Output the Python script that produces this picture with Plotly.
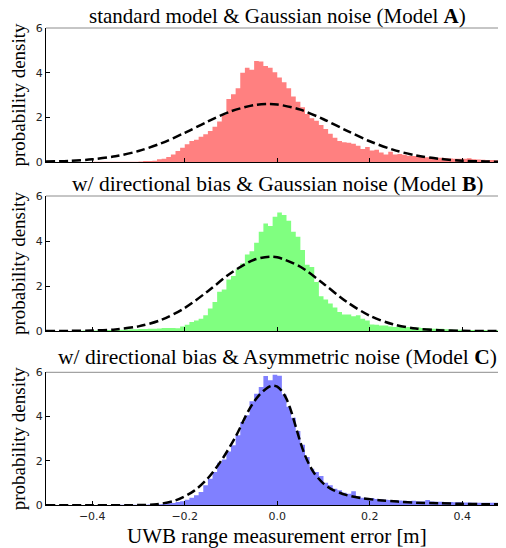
import numpy as np
import plotly.graph_objects as go

# ---------------- data ----------------
bin_width = 0.01
bin_left = np.round(np.arange(-0.50, 0.50, bin_width), 2)   # 100 bins, left edges

hist_A = [
    0, 0, 0, 0, 0, 0, 0, 0, 0, 0,
    0.01, 0.01, 0.01, 0.01, 0.01, 0.01, 0.01, 0.01, 0.01, 0.01,
    0.02, 0.04, 0.05, 0.06, 0.12, 0.14, 0.22, 0.34, 0.49, 0.64,
    0.79, 0.94, 1.00, 1.13, 1.24, 1.39, 1.58, 1.81, 2.10, 2.82,
    3.03, 3.30, 4.00, 4.22, 4.13, 4.52, 4.50, 4.30, 4.22, 4.02,
    3.78, 3.57, 3.30, 2.93, 2.70, 2.45, 2.15, 1.96, 1.85, 1.66,
    1.48, 1.27, 1.09, 0.94, 0.88, 0.86, 0.82, 0.73, 0.58, 0.67,
    0.52, 0.55, 0.42, 0.34, 0.46, 0.34, 0.36, 0.33, 0.28, 0.27,
    0.24, 0.22, 0.21, 0.21, 0.19, 0.19, 0.17, 0.16, 0.15, 0.14,
    0.14, 0.17, 0.12, 0.11, 0.10, 0.09, 0.09, 0.08, 0.07, 0.06,
]
hist_B = [
    0, 0, 0, 0, 0, 0, 0, 0.01, 0.02, 0.02,
    0.02, 0.03, 0.04, 0.04, 0.05, 0.05, 0.06, 0.07, 0.08, 0.08,
    0.09, 0.09, 0.10, 0.10, 0.11, 0.13, 0.13, 0.13, 0.12, 0.20,
    0.28, 0.40, 0.47, 0.54, 0.70, 1.00, 1.29, 1.74, 1.84, 2.29,
    2.44, 2.74, 3.00, 3.40, 3.55, 3.92, 4.41, 4.78, 4.67, 5.08,
    5.27, 5.16, 4.90, 4.41, 4.19, 3.60, 2.95, 2.85, 2.18, 1.55,
    1.40, 1.22, 1.04, 0.85, 0.73, 0.73, 0.66, 0.70, 0.55, 0.47,
    0.29, 0.28, 0.24, 0.24, 0.20, 0.18, 0.20, 0.17, 0.18, 0.16,
    0.16, 0.13, 0.12, 0.10, 0.10, 0.10, 0.08, 0.07, 0.06, 0.06,
    0.05, 0.05, 0.04, 0.04, 0.04, 0.03, 0.03, 0.03, 0.02, 0.02,
]
hist_C = [
    0, 0, 0, 0, 0, 0, 0, 0, 0, 0.01,
    0.01, 0.01, 0.01, 0.01, 0.01, 0.01, 0.02, 0.02, 0.02, 0.03,
    0.03, 0.03, 0.04, 0.04, 0.05, 0.06, 0.09, 0.10, 0.15, 0.18,
    0.25, 0.34, 0.45, 0.60, 0.90, 1.20, 1.50, 1.92, 2.07, 2.43,
    2.71, 3.16, 3.76, 4.06, 4.69, 5.03, 5.34, 5.83, 5.64, 5.89,
    5.85, 5.00, 4.45, 3.95, 3.35, 2.73, 2.18, 1.65, 1.50, 1.32,
    1.02, 0.90, 0.75, 0.68, 0.57, 0.52, 0.63, 0.42, 0.34, 0.30,
    0.33, 0.28, 0.27, 0.25, 0.24, 0.24, 0.22, 0.21, 0.19, 0.20,
    0.17, 0.17, 0.24, 0.17, 0.16, 0.16, 0.15, 0.15, 0.14, 0.14,
    0.13, 0.13, 0.12, 0.12, 0.12, 0.11, 0.11, 0.11, 0.10, 0.10,
]

# model density curves
curve_A_x = [-0.50, -0.45, -0.40, -0.35, -0.30, -0.25, -0.20, -0.15, -0.10, -0.05,
             -0.02, 0.00, 0.05, 0.10, 0.15, 0.20, 0.25, 0.30, 0.35, 0.40, 0.45, 0.50]
curve_A_y = [0.019, 0.051, 0.121, 0.257, 0.491, 0.845, 1.306, 1.816, 2.27, 2.55,
             2.60, 2.578, 2.343, 1.914, 1.407, 0.93, 0.552, 0.295, 0.142, 0.061, 0.024, 0.008]

curve_B_x = [-0.50, -0.45, -0.40, -0.35, -0.30, -0.25, -0.20, -0.15, -0.10, -0.05,
             -0.015, 0.00, 0.05, 0.10, 0.15, 0.20, 0.25, 0.30, 0.35, 0.40, 0.45, 0.50]
curve_B_y = [0.001, 0.005, 0.021, 0.071, 0.205, 0.499, 1.024, 1.77, 2.578, 3.165,
             3.30, 3.275, 2.856, 2.10, 1.30, 0.679, 0.299, 0.111, 0.035, 0.009, 0.002, 0.0]

curve_C_x = [-0.50, -0.40, -0.30, -0.26, -0.22, -0.18, -0.15, -0.12, -0.09, -0.06,
             -0.04, -0.02, -0.01, 0.00, 0.01, 0.02, 0.03, 0.04, 0.05, 0.06, 0.07,
             0.08, 0.10, 0.12, 0.15, 0.18, 0.22, 0.26, 0.30, 0.35, 0.40, 0.45, 0.50]
curve_C_y = [0.0, 0.0, 0.01, 0.05, 0.22, 0.65, 1.22, 2.05, 3.10, 4.35,
             4.95, 5.32, 5.40, 5.35, 5.15, 4.80, 4.25, 3.55, 2.85, 2.25, 1.80,
             1.45, 0.98, 0.70, 0.46, 0.33, 0.23, 0.17, 0.12, 0.09, 0.065, 0.05, 0.04]

titles = [
    "standard model & Gaussian noise (Model <b>A</b>)",
    "w/ directional bias & Gaussian noise (Model <b>B</b>)",
    "w/ directional bias & Asymmetric noise (Model <b>C</b>)",
]
x_ticks = [-0.4, -0.2, 0.0, 0.2, 0.4]
x_tick_text = ["\u22120.4", "\u22120.2", "0.0", "0.2", "0.4"]
y_ticks = [0, 2, 4, 6]
y_label = "probability density"
x_label = "UWB range measurement error [m]"

# ---------------- figure ----------------
# the page body has an 8px margin, so figure coords = window coords - 8
OFF = 8
W, H = 506 - OFF, 548 - OFF
L = 46 - OFF
PX_PER_UNIT = 462.5
fill_colors = ["rgb(255,128,128)", "rgb(128,255,128)", "rgb(128,128,255)"]
hists = [hist_A, hist_B, hist_C]
curves = [(curve_A_x, curve_A_y), (curve_B_x, curve_B_y), (curve_C_x, curve_C_y)]

# panel pixel extents (top, bottom) in window pixels
panels_px = [(28, 162), (196, 331), (372.3, 505.3)]
title_px = [16.5, 184, 357]
title_size = [21, 21.5, 21.5]

def py(px):
    return 1 - (px - OFF) / H

def pxx(px):
    return (px - OFF - L) / (W - L)

fig = go.Figure()
step_x = list(bin_left) + [round(bin_left[-1] + bin_width, 2)]
for i in range(3):
    xa = "x" if i == 0 else f"x{i+1}"
    ya = "y" if i == 0 else f"y{i+1}"
    step_y = list(hists[i]) + [hists[i][-1]]
    fig.add_trace(go.Scatter(x=step_x, y=step_y, mode="lines",
                             line=dict(width=0, shape="hv", color=fill_colors[i]),
                             fill="tozeroy", fillcolor=fill_colors[i],
                             xaxis=xa, yaxis=ya, showlegend=False, hoverinfo="skip"))
    cx, cy = curves[i]
    fig.add_trace(go.Scatter(x=cx, y=cy, mode="lines",
                             line=dict(color="black", width=2.5, dash="9px,4px",
                                       shape="spline", smoothing=0.9),
                             xaxis=xa, yaxis=ya, showlegend=False, hoverinfo="skip"))

tickfont = dict(family="DejaVu Sans", size=11, color="#222222")
layout = dict(width=W, height=H,
              margin=dict(l=L, r=0, t=0, b=0, pad=0, autoexpand=False),
              plot_bgcolor="white", paper_bgcolor="white")
xr = [-0.5, -0.5 + (W - L) / PX_PER_UNIT]
for i in range(3):
    sx = "" if i == 0 else str(i + 1)
    top, bot = panels_px[i]
    layout["xaxis" + sx] = dict(range=xr, tickvals=x_ticks, ticktext=x_tick_text,
                                ticks="inside", ticklen=4, tickcolor="black",
                                showline=True, linecolor="black", linewidth=1,
                                showgrid=False, zeroline=False,
                                showticklabels=(i == 2), tickfont=tickfont,
                                anchor="y" + sx, domain=[0, 1])
    layout["yaxis" + sx] = dict(range=[0, 6], tickvals=y_ticks,
                                ticks="inside", ticklen=4, tickcolor="black",
                                showline=True, linecolor="black", linewidth=1,
                                showgrid=False, zeroline=False, tickfont=tickfont,
                                anchor="x" + sx, domain=[py(bot), py(top)])
fig.update_layout(**layout)

shapes = []
annotations = []
serif = "Liberation Serif"
for i in range(3):
    sx = "" if i == 0 else str(i + 1)
    top, bot = panels_px[i]
    shapes.append(dict(type="line", xref=f"x{sx} domain", yref=f"y{sx} domain",
                       x0=0, x1=1, y0=1, y1=1, line=dict(color="#8c8c8c", width=1)))
    annotations.append(dict(text=titles[i], xref="paper", yref="paper",
                            x=pxx(277), y=py(title_px[i]), borderpad=0,
                            xanchor="center", yanchor="middle", showarrow=False,
                            font=dict(family=serif, size=title_size[i], color="black")))
    annotations.append(dict(text=y_label, xref="paper", yref="paper",
                            x=pxx(18.5), y=py((top + bot) / 2), borderpad=0,
                            xanchor="center", yanchor="middle", showarrow=False,
                            textangle=-90,
                            font=dict(family=serif, size=19, color="black")))
annotations.append(dict(text=x_label, xref="paper", yref="paper",
                        x=pxx(277), y=py(535.5), borderpad=0,
                        xanchor="center", yanchor="middle", showarrow=False,
                        font=dict(family=serif, size=21, color="black")))
fig.update_layout(shapes=shapes, annotations=annotations)

fig.write_html("out.html")
